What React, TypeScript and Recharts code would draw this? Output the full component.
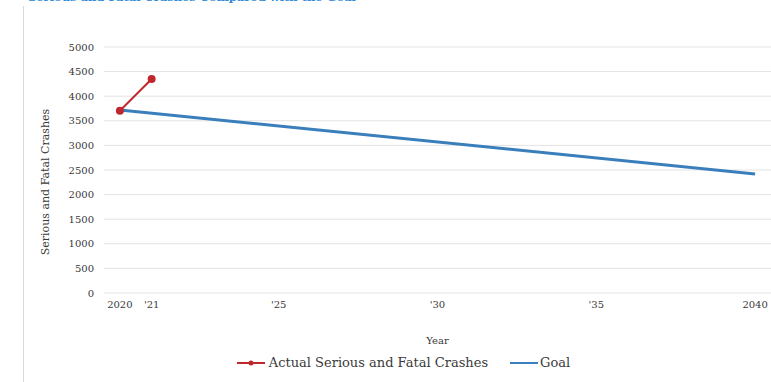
import React from 'react';
import { LineChart, Line, XAxis, YAxis, CartesianGrid, Legend } from 'recharts';

const actualYears = [2020, 2021];
const actualValues = [3705, 4350];
const goalYears = [2020, 2040];
const goalValues = [3720, 2420];
const xTicks = [2020, 2021, 2025, 2030, 2035, 2040];
const xTickLabels = ['2020', "'21", "'25", "'30", "'35", '2040'];
const yTicks = [0, 500, 1000, 1500, 2000, 2500, 3000, 3500, 4000, 4500, 5000];

const actualData = actualYears.map((y, i) => ({ year: y, actual: actualValues[i] }));
const goalData = goalYears.map((y, i) => ({ year: y, goal: goalValues[i] }));

const FONT = '"DejaVu Serif", serif';
const TEXT = '#3a3a3a';

const LegendContent = () => (
  <div style={{ display: 'flex', justifyContent: 'center', alignItems: 'center', fontFamily: FONT, fontSize: 13, color: TEXT, paddingLeft: 36 }}>
    <svg width={28} height={10} style={{ marginRight: 4 }}>
      <line x1={0} y1={5} x2={28} y2={5} stroke="#c0272d" strokeWidth={2} />
      <circle cx={14} cy={5} r={2.5} fill="#c0272d" />
    </svg>
    <span style={{ marginRight: 22 }}>Actual Serious and Fatal Crashes</span>
    <svg width={28} height={10} style={{ marginRight: 2 }}>
      <line x1={0} y1={5} x2={28} y2={5} stroke="#3a80bf" strokeWidth={2} />
    </svg>
    <span>Goal</span>
  </div>
);

const YLabel = () => (
  <text x={45} y={182} transform="rotate(-90 45 182)" textAnchor="middle" dominantBaseline="central" fontFamily={FONT} fontSize={11} fill={TEXT}>
    Serious and Fatal Crashes
  </text>
);

export default function App() {
  return (
    <div style={{ position: 'absolute', left: 0, top: 0, width: 771, height: 382, background: '#fff', overflow: 'hidden' }}>
      <div style={{ position: 'absolute', left: 28, top: -10, fontFamily: FONT, fontSize: 11.5, fontWeight: 'bold', color: '#2f8ad6', whiteSpace: 'nowrap' }}>
        Serious and Fatal Crashes Compared with the Goal
      </div>
      <div style={{ position: 'absolute', left: 23, top: 6, width: 1, height: 376, background: '#d9d9d9' }} />
      <LineChart width={771} height={382} margin={{ top: 47, right: 0, bottom: 0, left: 0 }}>
        <CartesianGrid horizontal vertical={false} stroke="#e3e3e3" />
        <XAxis
          type="number"
          dataKey="year"
          domain={[2019.5, 2040.5]}
          ticks={xTicks}
          tickFormatter={(v: number) => xTickLabels[xTicks.indexOf(v)]}
          allowDuplicatedCategory={false}
          axisLine={false}
          tickLine={false}
          height={65}
          tick={{ fontFamily: FONT, fontSize: 10, fill: TEXT }}
          label={{ value: 'Year', position: 'insideBottom', offset: 14, style: { fontFamily: FONT, fontSize: 10, fill: TEXT } }}
        />
        <YAxis
          domain={[0, 5000]}
          ticks={yTicks}
          axisLine={false}
          tickLine={false}
          width={104}
          tick={{ fontFamily: FONT, fontSize: 10, fill: TEXT, dx: -2 }}
          label={<YLabel />}
        />
        <Legend verticalAlign="bottom" height={24} content={() => <LegendContent />} wrapperStyle={{ bottom: 3 }} />
        <Line data={goalData} dataKey="goal" stroke="#3a7fbc" strokeWidth={3} dot={false} isAnimationActive={false} />
        <Line data={actualData} dataKey="actual" stroke="#c0272d" strokeWidth={2} dot={{ r: 3, fill: '#c0272d', stroke: '#c0272d' }} isAnimationActive={false} />
      </LineChart>
    </div>
  );
}
